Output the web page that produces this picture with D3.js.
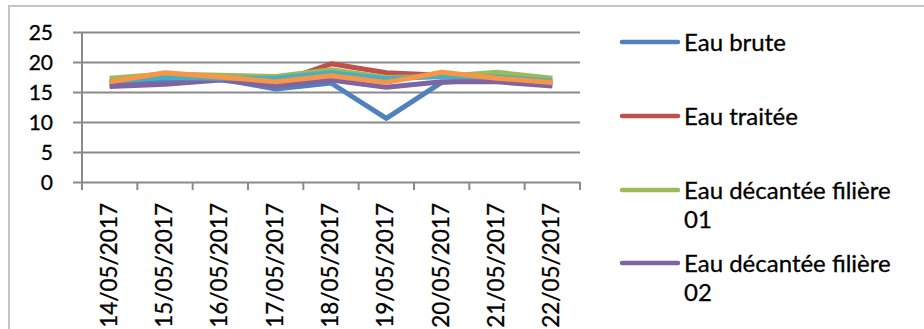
<!DOCTYPE html>
<html>
<head>
<meta charset="utf-8">
<script src="https://cdn.jsdelivr.net/npm/d3@7"></script>
<style>
  html, body { margin: 0; padding: 0; background: #fff; }
  svg { display: block; }
  text { font-family: Lato, "Open Sans", sans-serif; fill: #000; }
</style>
</head>
<body>
<svg id="chart" width="924" height="329"></svg>
<script>
// Sampling dates
const dates = ["14/05/2017", "15/05/2017", "16/05/2017", "17/05/2017", "18/05/2017",
               "19/05/2017", "20/05/2017", "21/05/2017", "22/05/2017"];

// Temperature readings per sampling point
const eauBrute      = [16.0, 17.0, 17.2, 15.5, 16.5, 10.6, 16.6, 17.2, 16.3];
const eauTraitee    = [16.5, 18.0, 17.5, 16.5, 19.7, 18.2, 17.8, 17.5, 16.8];
const filiere01     = [17.3, 18.0, 17.8, 17.6, 18.7, 17.4, 17.6, 18.3, 17.3];
const filiere02     = [15.9, 16.3, 17.0, 16.0, 17.0, 15.8, 16.7, 16.7, 16.0];
const serie5        = [16.8, 17.4, 17.3, 17.3, 18.2, 17.2, 17.6, 17.5, 16.8];
const serie6        = [16.7, 18.2, 17.5, 16.7, 17.7, 16.6, 18.3, 17.3, 16.6];

const yTicks = [0, 5, 10, 15, 20, 25];

const series = [
  { name: "Eau brute", values: eauBrute, color: "#4F81BD" },
  { name: "Eau traitée", values: eauTraitee, color: "#C0504D" },
  { name: "Eau décantée filière 01", values: filiere01, color: "#9BBB59" },
  { name: "Eau décantée filière 02", values: filiere02, color: "#8064A2" },
  { name: "Série 5", values: serie5, color: "#4BACC6" },
  { name: "Série 6", values: serie6, color: "#F79646" }
];

// Legend entries shown beside the plot (first four series)
const legendEntries = [
  { lines: ["Eau brute"], color: "#4F81BD" },
  { lines: ["Eau traitée"], color: "#C0504D" },
  { lines: ["Eau décantée filière", "01"], color: "#9BBB59" },
  { lines: ["Eau décantée filière", "02"], color: "#8064A2" }
];

const svg = d3.select("#chart");

// outer chart frame
svg.append("rect")
  .attr("x", 9).attr("y", 6)
  .attr("width", 940).attr("height", 360)
  .attr("fill", "none")
  .attr("stroke", "#c4c4c4")
  .attr("stroke-width", 2);

const plot = { left: 82, right: 580, top: 32, bottom: 182 };

const x = d3.scaleBand().domain(dates).range([plot.left, plot.right]).paddingInner(0).paddingOuter(0);
const y = d3.scaleLinear().domain([0, 25]).range([plot.bottom, plot.top]);

// horizontal gridlines with outside tick marks
const yAxis = d3.axisLeft(y).tickValues(yTicks).tickSize(-(plot.right - plot.left)).tickPadding(20);
const gy = svg.append("g").attr("transform", `translate(${plot.left},0)`).call(yAxis);
gy.select(".domain").remove();
gy.selectAll(".tick line")
  .attr("x1", -9)
  .attr("stroke", "#8a8a8a")
  .attr("stroke-width", 2);
gy.selectAll(".tick text")
  .style("font-size", "21px")
  .style("stroke", "#000")
  .style("stroke-width", 0.3)
  .attr("x", -29)
  .attr("dy", "0.36em");

// vertical axis line
svg.append("line")
  .attr("x1", plot.left).attr("x2", plot.left)
  .attr("y1", y(25)).attr("y2", plot.bottom + 8)
  .attr("stroke", "#8a8a8a").attr("stroke-width", 2);

// category boundary ticks on the x axis
const boundaries = dates.map(d => x(d)).concat([x(dates[dates.length - 1]) + x.bandwidth()]);
svg.append("g").selectAll("line").data(boundaries).join("line")
  .attr("x1", d => d).attr("x2", d => d)
  .attr("y1", plot.bottom).attr("y2", plot.bottom + 8)
  .attr("stroke", "#8a8a8a").attr("stroke-width", 2);

// rotated date labels
svg.append("g").selectAll("text").data(dates).join("text")
  .attr("transform", d => `translate(${x(d) + x.bandwidth() / 2 + 7},${plot.bottom + 21}) rotate(-90)`)
  .attr("text-anchor", "end")
  .style("font-size", "22.5px")
  .style("stroke", "#000")
  .style("stroke-width", 0.3)
  .text(d => d);

// series lines
const line = d3.line()
  .x((d, i) => x(dates[i]) + x.bandwidth() / 2)
  .y(d => y(d));

svg.append("g").selectAll("path").data(series).join("path")
  .attr("d", s => line(s.values))
  .attr("fill", "none")
  .attr("stroke", s => s.color)
  .attr("stroke-width", 5)
  .attr("stroke-linejoin", "round")
  .attr("stroke-linecap", "butt");

// legend
const legendY = [42, 116, 190, 263];
const lg = svg.append("g");
legendEntries.forEach((e, i) => {
  const g = lg.append("g").attr("transform", `translate(0,${legendY[i]})`);
  g.append("line")
    .attr("x1", 622).attr("x2", 678)
    .attr("y1", 0).attr("y2", 0)
    .attr("stroke", e.color)
    .attr("stroke-width", 4.5)
    .attr("stroke-linecap", "round");
  e.lines.forEach((t, j) => {
    g.append("text")
      .attr("x", 684)
      .attr("y", 8.5 + j * 29)
      .style("font-size", "24px")
      .style("stroke", "#000")
      .style("stroke-width", 0.3)
      .text(t);
  });
});
</script>
</body>
</html>
